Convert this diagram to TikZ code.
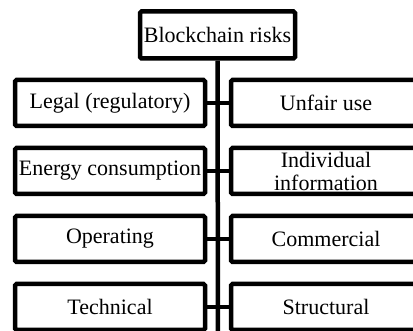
\documentclass[tikz,border=0pt]{standalone}
\usepackage{fontspec}
\setmainfont{Liberation Serif}
\begin{document}
\begin{tikzpicture}[x=1pt,y=-1pt,
  box/.style={draw,line width=4.5pt,rounded corners=1.5pt,fill=white,minimum width=190pt,minimum height=46pt,inner sep=0pt,align=center,font=\fontsize{22}{23}\selectfont},
  link/.style={line width=4.5pt}]

       \useasboundingbox (0,0) rectangle (413,331);

       \node[box,minimum width=155pt,minimum height=47pt] (top) at (217.5,35) {Blockchain risks};
       \coordinate (end) at (218,345);

       \node[box] (l1) at (110,103) {Legal (regulatory)};
       \node[box] (r1) at (326,103) {Unfair use};
       \node[box] (l2) at (110,171) {Energy consumption};
       \node[box] (r2) at (326,171) {Individual\\information};
       \node[box] (l3) at (110,239) {Operating};
       \node[box] (r3) at (326,239) {Commercial};
       \node[box] (l4) at (110,307) {Technical};
       \node[box] (r4) at (326,307) {Structural};

       \draw[link] (top.south) -- (end);
       \draw[link] (l1) -- (r1);
       \draw[link] (l2) -- (r2);
       \draw[link] (l3) -- (r3);
       \draw[link] (l4) -- (r4);
     \end{tikzpicture}
\end{document}
